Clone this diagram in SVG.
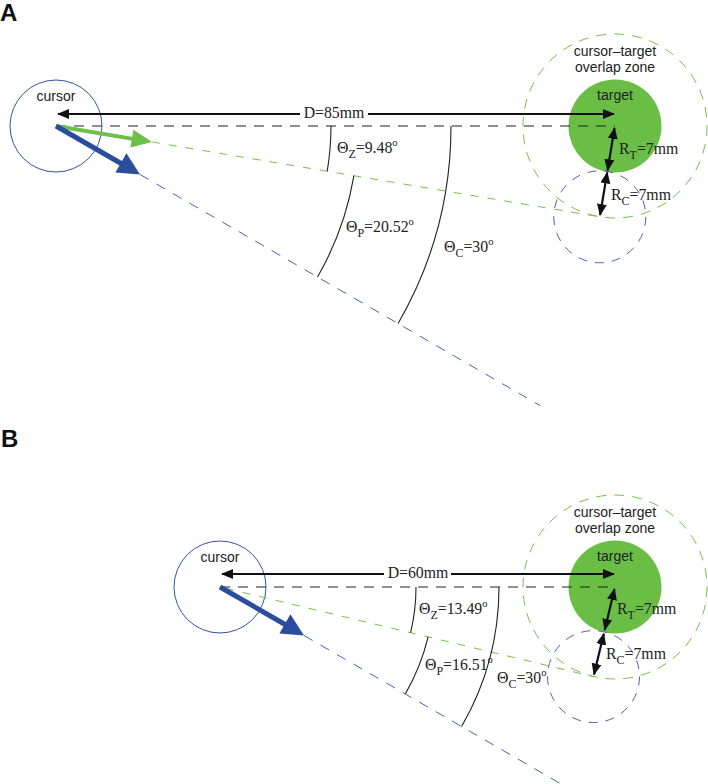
<svg xmlns="http://www.w3.org/2000/svg" width="708" height="784" viewBox="0 0 708 784">
<style>
.sans{font-family:"Liberation Sans",Arial,sans-serif;font-size:14px;fill:#222}
.ser{font-family:"Liberation Serif","Times New Roman",serif;font-size:15.8px;fill:#222}
.sub{font-size:12px}
.sup{font-size:10.5px}
.lbl{font-family:"Liberation Sans",Arial,sans-serif;font-size:24px;font-weight:bold;fill:#111}
.bdash{fill:none;stroke:#222;stroke-width:1.2;stroke-dasharray:10 8}
.gdash{fill:none;stroke:#77bf4a;stroke-width:1;stroke-dasharray:8 9}
.udash{fill:none;stroke:#4a62b0;stroke-width:1;stroke-dasharray:10 9}
.gcirc{fill:none;stroke:#77bf4a;stroke-width:1;stroke-dasharray:10 8}
.ucirc{fill:none;stroke:#4a62b0;stroke-width:1;stroke-dasharray:9 8}
.cur{fill:none;stroke:#3552a6;stroke-width:1}
.tgt{fill:#6abd45}
.arc{fill:none;stroke:#222;stroke-width:1.1}
.dim{fill:none;stroke:#111;stroke-width:1.8}
.rad{fill:none;stroke:#111;stroke-width:2.2}
</style>
<defs>
<marker id="ah" markerUnits="userSpaceOnUse" markerWidth="12" markerHeight="12" viewBox="0 0 12 12" refX="11" refY="6" orient="auto-start-reverse">
<path d="M0,1 L12,6 L0,11 Z" fill="#111"/>
</marker>
</defs>

<text class="lbl" x="0" y="21">A</text>
<text class="lbl" x="1" y="447">B</text>

<g id="panelA">
<g id="cursorA"><circle class="cur" cx="56" cy="126" r="46"/><text class="sans" x="56" y="101" text-anchor="middle">cursor</text></g>
<g id="zoneA"><circle class="gcirc" cx="615" cy="126" r="92"/><text class="sans" x="615" y="56" text-anchor="middle">cursor–target</text><text class="sans" x="615" y="72" text-anchor="middle">overlap zone</text></g>
<g id="targetA"><circle class="tgt" cx="615" cy="126" r="46.5"/><text class="sans" x="615" y="100" text-anchor="middle">target</text></g>
<g id="cursorAtA"><circle class="ucirc" cx="599.8" cy="216.8" r="46"/></g>
<g id="connectorsA">
<line class="bdash" x1="56" y1="126" x2="615" y2="126"/>
<line class="gdash" x1="152" y1="142" x2="599.8" y2="216.8"/>
<line class="udash" x1="140" y1="174.5" x2="540" y2="405.5"/>
<line class="dim" x1="300" y1="114" x2="58" y2="114" marker-end="url(#ah)"/>
<line class="dim" x1="368" y1="114" x2="614" y2="114" marker-end="url(#ah)"/>
<line class="rad" x1="614.5" y1="128" x2="607.6" y2="170.4" marker-start="url(#ah)" marker-end="url(#ah)"/>
<line class="rad" x1="607.2" y1="172.4" x2="600.1" y2="215" marker-start="url(#ah)" marker-end="url(#ah)"/>
<line x1="56" y1="126" x2="133" y2="138.9" stroke="#6cc04a" stroke-width="4"/>
<polygon points="152,142 130.4,147.6 133.4,129.8" fill="#6cc04a"/>
<line x1="56" y1="126" x2="122" y2="164" stroke="#2c4d9e" stroke-width="5"/>
<polygon points="140,174.5 115.4,172.4 126.4,153.3" fill="#2c4d9e"/>
<path class="arc" d="M331 126 A275 275 0 0 1 327.2 171.3"/>
<path class="arc" d="M353.9 175.7 A302 302 0 0 1 317.5 277"/>
<path class="arc" d="M451 126 A395 395 0 0 1 398.1 323.5"/>
</g>
<text class="ser" x="334" y="118" text-anchor="middle">D=85mm</text>
<text class="ser" x="337" y="153">Θ<tspan class="sub" dy="5">Z</tspan><tspan dy="-5">=9.48</tspan><tspan class="sup" dy="-7">o</tspan></text>
<text class="ser" x="346" y="232">Θ<tspan class="sub" dy="5">P</tspan><tspan dy="-5">=20.52</tspan><tspan class="sup" dy="-7">o</tspan></text>
<text class="ser" x="444" y="252">Θ<tspan class="sub" dy="5">C</tspan><tspan dy="-5">=30</tspan><tspan class="sup" dy="-7">o</tspan></text>
<text class="ser" x="619" y="154">R<tspan class="sub" dy="5">T</tspan><tspan dy="-5">=7mm</tspan></text>
<text class="ser" x="611" y="200">R<tspan class="sub" dy="5">C</tspan><tspan dy="-5">=7mm</tspan></text>
</g>

<g id="panelB">
<g id="cursorB"><circle class="cur" cx="220" cy="587" r="46"/><text class="sans" x="220" y="562" text-anchor="middle">cursor</text></g>
<g id="zoneB"><circle class="gcirc" cx="615" cy="587" r="92"/><text class="sans" x="615" y="517" text-anchor="middle">cursor–target</text><text class="sans" x="615" y="533" text-anchor="middle">overlap zone</text></g>
<g id="targetB"><circle class="tgt" cx="615" cy="587" r="46.5"/><text class="sans" x="615" y="561" text-anchor="middle">target</text></g>
<g id="cursorAtB"><circle class="ucirc" cx="593.5" cy="676.6" r="46"/></g>
<g id="connectorsB">
<line class="bdash" x1="220" y1="587" x2="615" y2="587"/>
<line class="gdash" x1="226" y1="588.4" x2="593.5" y2="676.6"/>
<line class="udash" x1="304" y1="635.5" x2="562" y2="784.5"/>
<line class="dim" x1="384" y1="574" x2="222" y2="574" marker-end="url(#ah)"/>
<line class="dim" x1="451" y1="574" x2="614" y2="574" marker-end="url(#ah)"/>
<line class="rad" x1="614.5" y1="589" x2="604.7" y2="629.9" marker-start="url(#ah)" marker-end="url(#ah)"/>
<line class="rad" x1="603.8" y1="633.7" x2="594" y2="674.6" marker-start="url(#ah)" marker-end="url(#ah)"/>
<line x1="220" y1="587" x2="286" y2="625" stroke="#2c4d9e" stroke-width="5"/>
<polygon points="304,635.5 279.4,633.4 290.4,614.3" fill="#2c4d9e"/>
<path class="arc" d="M416 587 A196 196 0 0 1 410.6 632.7"/>
<path class="arc" d="M428.1 636.9 A214 214 0 0 1 405.3 694"/>
<path class="arc" d="M499 587 A279 279 0 0 1 461.6 726.5"/>
</g>
<text class="ser" x="418" y="578" text-anchor="middle">D=60mm</text>
<text class="ser" x="419" y="614">Θ<tspan class="sub" dy="5">Z</tspan><tspan dy="-5">=13.49</tspan><tspan class="sup" dy="-7">o</tspan></text>
<text class="ser" x="425" y="670">Θ<tspan class="sub" dy="5">P</tspan><tspan dy="-5">=16.51</tspan><tspan class="sup" dy="-7">o</tspan></text>
<text class="ser" x="497" y="683">Θ<tspan class="sub" dy="5">C</tspan><tspan dy="-5">=30</tspan><tspan class="sup" dy="-7">o</tspan></text>
<text class="ser" x="617" y="614">R<tspan class="sub" dy="5">T</tspan><tspan dy="-5">=7mm</tspan></text>
<text class="ser" x="606" y="659">R<tspan class="sub" dy="5">C</tspan><tspan dy="-5">=7mm</tspan></text>
</g>
</svg>
